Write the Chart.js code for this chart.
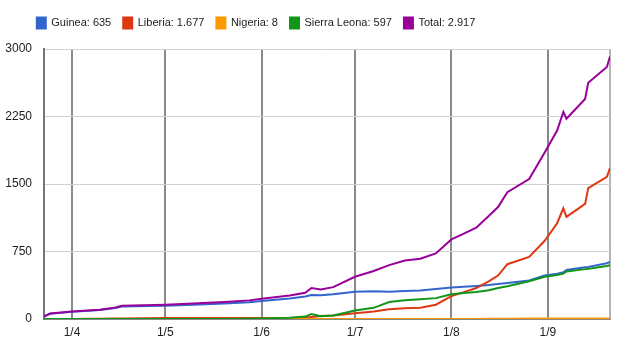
<!DOCTYPE html>
<html>
<head>
<meta charset="utf-8">
<script src="https://cdn.jsdelivr.net/npm/chart.js@4.4.1/dist/chart.umd.min.js"></script>
<style>
  html, body { margin: 0; padding: 0; background: #fff; }
  #wrap { width: 625px; height: 351px; }
</style>
</head>
<body>
<div id="wrap"><canvas id="ebola" width="625" height="351"></canvas></div>
<script>
// report dates (2014)
var dates = ['03-23', '03-25', '04-01', '04-10', '04-15', '04-17', '05-01', '05-10',
             '05-20', '05-28', '06-01', '06-10', '06-15', '06-17', '06-20', '06-24',
             '07-01', '07-07', '07-12', '07-17', '07-22', '07-27', '08-01', '08-05',
             '08-09', '08-13', '08-16', '08-19', '08-26', '08-31', '09-04', '09-06',
             '09-07', '09-13', '09-14', '09-20', '09-21'];

var guinea = [29, 60, 82, 100, 122, 140, 148, 158, 174, 188, 200, 228, 252, 268, 264, 275,
              305, 308, 305, 312, 318, 335, 350, 358, 368, 378, 390, 400, 428, 485, 505, 520,
              545, 575, 580, 620, 635];
var liberia = [0, 0, 2, 5, 6, 6, 11, 11, 11, 11, 11, 11, 16, 24, 34, 40,
               65, 85, 110, 120, 127, 160, 255, 300, 345, 420, 484, 610, 690, 870, 1065, 1230,
               1135, 1280, 1455, 1580, 1677];
var nigeria = [0, 0, 0, 0, 0, 0, 0, 0, 0, 0, 0, 0, 0, 0, 0, 0,
               0, 0, 0, 0, 0, 1, 1, 2, 2, 4, 5, 5, 6, 7, 8, 8,
               8, 8, 8, 8, 8];
var sierraLeone = [0, 0, 0, 0, 0, 0, 0, 0, 0, 5, 6, 15, 28, 55, 32, 40,
                   95, 125, 190, 210, 220, 233, 275, 290, 300, 320, 345, 365, 420, 470, 490, 505,
                   530, 555, 560, 590, 597];
var total = [30, 62, 85, 105, 128, 148, 160, 172, 190, 208, 225, 262, 292, 345, 330, 355,
             470, 535, 600, 650, 670, 730, 885, 950, 1015, 1145, 1245, 1410, 1555, 1850, 2095, 2300,
             2225, 2445, 2625, 2800, 2917];

var seriesNames = ['Guinea', 'Liberia', 'Nigeria', 'Sierra Leona', 'Total'];
var seriesColors = ['#3366cc', '#dc3912', '#ff9900', '#109618', '#990099'];

var tickDates = ['04-01', '05-01', '06-01', '07-01', '08-01', '09-01'];
var tickLabels = ['1/4', '1/5', '1/6', '1/7', '1/8', '1/9'];
var yTicks = [0, 750, 1500, 2250, 3000];

function dayOfYear(md) {
  var t = Date.parse('2014-' + md + 'T00:00:00Z');
  return Math.round((t - Date.UTC(2014, 0, 1)) / 86400000) + 1;
}
function dots(n) {
  return String(n).replace(/\B(?=(\d{3})+(?!\d))/g, '.');
}

var xDays = dates.map(dayOfYear);
var tickDays = tickDates.map(dayOfYear);
var xMin = xDays[0], xMax = xDays[xDays.length - 1];

var allSeries = [guinea, liberia, nigeria, sierraLeone, total];
var datasets = allSeries.map(function(vals, i) {
  return {
    label: seriesNames[i] + ': ' + dots(vals[vals.length - 1]),
    data: vals.map(function(v, j) { return {x: xDays[j], y: v}; }),
    borderColor: seriesColors[i],
    backgroundColor: seriesColors[i],
    borderWidth: 2,
    pointRadius: 0,
    tension: 0,
    fill: false,
    order: allSeries.length - i
  };
});

// legend: a bit taller so the plot starts lower, and moved right
var legendPlace = {
  id: 'legendPlace',
  beforeLayout: function(chart) {
    var lg = chart.legend;
    if (lg && !lg._placed) {
      var fit = lg.fit;
      lg.fit = function() { fit.call(this); this.height += 10.5; };
      lg._placed = true;
    }
  },
  afterLayout: function(chart) {
    chart.legend.left += 31.5;
    chart.legend.right += 31.5;
  }
};

var chartElem = document.getElementById('ebola');
var graph = new Chart(chartElem, {
  type: 'line',
  data: { datasets: datasets },
  plugins: [legendPlace],
  options: {
    responsive: false,
    animation: false,
    layout: { padding: { left: -6.7, top: 5.5, right: 15, bottom: 5.5 } },
    plugins: {
      tooltip: { enabled: false },
      legend: {
        position: 'top',
        align: 'start',
        labels: {
          boxWidth: 9,
          boxHeight: 11,
          padding: 12,
          color: '#222',
          font: { family: '"Liberation Sans", Arial, sans-serif', size: 11 },
          sort: function(a, b) { return a.datasetIndex - b.datasetIndex; }
        }
      }
    },
    scales: {
      x: {
        type: 'linear',
        min: xMin,
        max: xMax,
        afterBuildTicks: function(axis) {
          axis.ticks = tickDays.concat([xMax]).map(function(v) { return {value: v}; });
        },
        ticks: {
          autoSkip: false,
          maxRotation: 0,
          padding: 6,
          color: '#222',
          font: { family: '"Liberation Sans", Arial, sans-serif', size: 12 },
          callback: function(value, index) {
            return index < tickLabels.length ? tickLabels[index] : '';
          }
        },
        grid: {
          drawTicks: false,
          color: function(ctx) { return ctx.index < tickLabels.length ? '#8a8a8a' : '#b4b4b4'; },
          lineWidth: 2
        },
        border: { color: '#888', width: 1 }
      },
      y: {
        min: 0,
        max: 3000,
        afterBuildTicks: function(axis) {
          axis.ticks = yTicks.map(function(v) { return {value: v}; });
        },
        ticks: {
          padding: 12,
          color: '#222',
          font: { family: '"Liberation Sans", Arial, sans-serif', size: 12 },
          callback: function(value) { return String(value); }
        },
        grid: {
          drawTicks: false,
          color: function(ctx) { return ctx.tick && ctx.tick.value === 0 ? '#888' : '#d0d0d0'; },
          lineWidth: 1
        },
        border: { color: '#777', width: 2 }
      }
    }
  }
});
</script>
</body>
</html>
